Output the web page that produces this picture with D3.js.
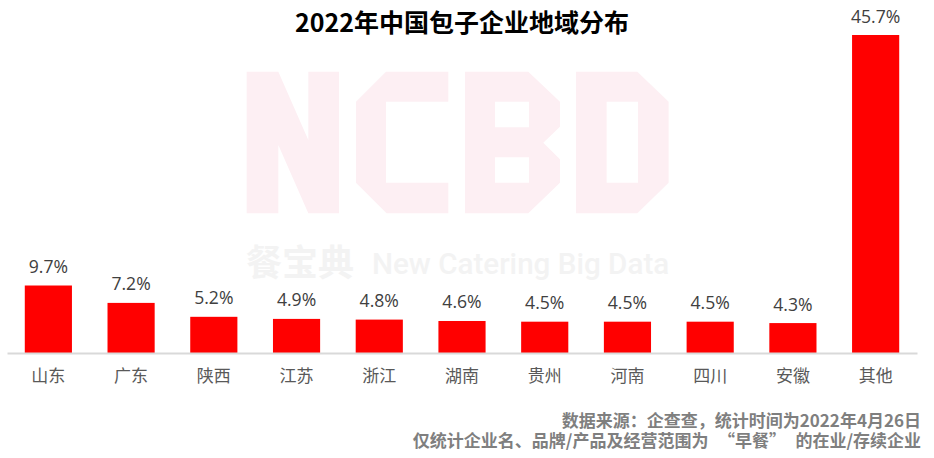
<!DOCTYPE html>
<html><head><meta charset="utf-8">
<script src="https://cdn.jsdelivr.net/npm/d3@7/dist/d3.min.js"></script>
<style>html,body{margin:0;padding:0;background:#fff}svg{display:block}</style></head>
<body><svg id="c" width="934" height="458"></svg>
<script>
const categories=["山东","广东","陕西","江苏","浙江","湖南","贵州","河南","四川","安徽","其他"];
const shares=[9.7,7.2,5.2,4.9,4.8,4.6,4.5,4.5,4.5,4.3,45.7];
const titleText="2022年中国包子企业地域分布";
const footnoteSource="数据来源：企查查，统计时间为2022年4月26日";
const footnoteScope=["仅统计企业名、品牌/产品及经营范围为","“早餐”","的在业/存续企业"];
const cjk='"Noto Sans CJK SC","Noto Sans",sans-serif';
const svg=d3.select("#c");
// watermark
const wm=svg.append("g").attr("transform","translate(230,50) scale(0.3333)").attr("fill","#fdeff3").attr("fill-rule","evenodd");
["M50 65H145L235 270V65H327V490H235L145 285V490H50Z",
 "M468 65H655V155H468V398H655V490H470L378 398V155Z",
 "M705 65H895L990 155V230L940 278L990 328V398L895 490H705ZM795 155V232H897V155ZM795 322V398H897V322Z",
 "M1038 65H1222L1316 155V398L1222 490H1038ZM1130 155V398H1224V155Z"].forEach(d=>wm.append("path").attr("d",d));
svg.append("text").attr("x",246).attr("y",276).attr("font-family",cjk).attr("font-weight",700).attr("font-size",36).attr("fill","#f3f3f3").text("餐宝典");
svg.append("text").attr("x",372).attr("y",274).attr("font-family","Roboto,sans-serif").attr("font-weight",500).attr("font-size",29.6).attr("fill","#f3f3f3").text("New Catering Big Data");
// scales
const x=d3.scaleBand().domain(categories).range([7,917]).paddingInner(0.43).paddingOuter(0.215);
const y=d3.scaleLinear().domain([0,45.7]).range([353,35]);
svg.append("g").selectAll("rect").data(shares).join("rect")
 .attr("x",(d,i)=>x(categories[i])).attr("width",x.bandwidth())
 .attr("y",d=>y(d)).attr("height",d=>y(0)-y(d)).attr("fill","#ff0000");
const ax=svg.append("g").attr("transform","translate(0,353)").call(d3.axisBottom(x).tickSize(0).tickPadding(17));
ax.select(".domain").attr("stroke","#d9d9d9").attr("stroke-width",2);
ax.selectAll("text").attr("font-family",cjk).attr("font-size",17).attr("fill","#595959");
svg.append("g").selectAll("text").data(shares).join("text")
 .attr("x",(d,i)=>x(categories[i])+x.bandwidth()/2).attr("y",d=>y(d)-12.5)
 .attr("text-anchor","middle").attr("font-family",'"Open Sans",sans-serif').attr("font-size",17.6).attr("fill","#404040")
 .text(d=>d.toFixed(1)+"%");
svg.append("text").attr("x",462).attr("y",31.5).attr("text-anchor","middle").attr("font-family",cjk).attr("font-weight",700).attr("font-size",25).attr("fill","#000").text(titleText);
const foot=svg.append("g").attr("text-anchor","end").attr("font-family",cjk).attr("font-weight",700).attr("font-size",17).attr("fill","#7f7f7f");
foot.append("text").attr("x",921).attr("y",427).text(footnoteSource);
const l2=foot.append("text").attr("x",921).attr("y",447);
footnoteScope.forEach((s,i)=>{const t=l2.append("tspan").text(s); if(i>0) t.attr("dx",9.5);});
</script></body></html>
